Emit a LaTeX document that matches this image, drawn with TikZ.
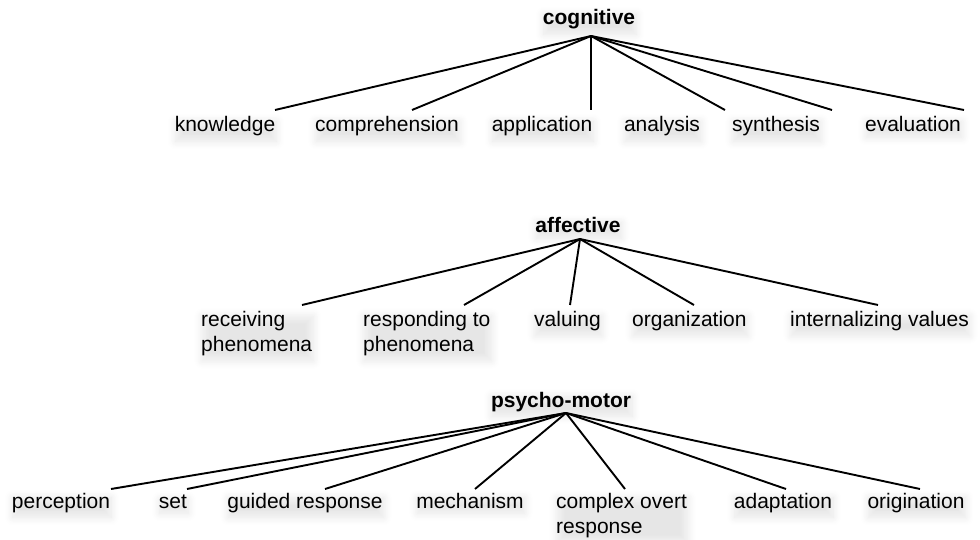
\documentclass[tikz,border=0pt]{standalone}
\usepackage{fontspec}
\setmainfont{Liberation Sans}
\usetikzlibrary{shadows.blur}
\begin{document}
\begin{tikzpicture}[x=1pt,y=-1pt,
  lbl/.style={inner sep=0pt, font=\fontsize{21}{25}\selectfont,
    blur shadow={shadow xshift=1pt, shadow yshift=-5pt, shadow opacity=10, shadow blur radius=8pt, shadow blur steps=10}},
  ttl/.style={lbl, font=\fontsize{21}{25}\selectfont\bfseries},
  edge/.style={line width=1.9pt, black}]
\useasboundingbox (0,0) rectangle (980,540);
% ---------- cognitive ----------
\node[ttl, anchor=base] (cog) at (589,25) {cognitive};
\coordinate (cogj) at (591,36);
\node[lbl, anchor=base] (kn) at (225,132) {knowledge};
\node[lbl, anchor=base] (co) at (387,132) {comprehension};
\node[lbl, anchor=base] (ap) at (542,132) {application};
\node[lbl, anchor=base] (an) at (662,132) {analysis};
\node[lbl, anchor=base] (sy) at (776,132) {synthesis};
\node[lbl, anchor=base] (ev) at (913,132) {evaluation};
\coordinate (knt) at (275,110);
\coordinate (cot) at (412,110);
\coordinate (apt) at (591,110);
\coordinate (ant) at (725,110);
\coordinate (syt) at (832,110);
\coordinate (evt) at (964,110);
\foreach \t in {knt,cot,apt,ant,syt,evt} \draw[edge] (cogj) -- (\t);
% ---------- affective ----------
\node[ttl, anchor=base] (aff) at (578,233) {affective};
\coordinate (affj) at (580,239);
\node[lbl, anchor=north west, align=left] (rec) at (201,311) {receiving\\phenomena};
\node[lbl, anchor=north west, align=left] (res) at (363,311) {responding to\\phenomena};
\node[lbl, anchor=north west] (val) at (534,311) {valuing};
\node[lbl, anchor=north west] (org) at (632,311) {organization};
\node[lbl, anchor=north west] (int) at (790,311) {internalizing values};
\coordinate (rect) at (302,305);
\coordinate (rest) at (464,305);
\coordinate (valt) at (570,305);
\coordinate (orgt) at (694,305);
\coordinate (intt) at (878,305);
\foreach \t in {rect,rest,valt,orgt,intt} \draw[edge] (affj) -- (\t);
% ---------- psycho-motor ----------
\node[ttl, anchor=base] (psy) at (561,407) {psycho-motor};
\coordinate (psyj) at (566,413);
\node[lbl, anchor=base] (per) at (61,508) {perception};
\node[lbl, anchor=base] (set) at (173,508) {set};
\node[lbl, anchor=base] (gui) at (305,508) {guided response};
\node[lbl, anchor=base] (mec) at (470,508) {mechanism};
\node[lbl, anchor=north west, align=left] (cov) at (556,493) {complex overt\\response};
\node[lbl, anchor=base] (ada) at (783,508) {adaptation};
\node[lbl, anchor=base] (ori) at (916,508) {origination};
\coordinate (pert) at (111,489);
\coordinate (sett) at (187,489);
\coordinate (guit) at (325,489);
\coordinate (mect) at (475,489);
\coordinate (covt) at (625,489);
\coordinate (adat) at (786,489);
\coordinate (orit) at (920,489);
\foreach \t in {pert,sett,guit,mect,covt,adat,orit} \draw[edge] (psyj) -- (\t);
\end{tikzpicture}
\end{document}
